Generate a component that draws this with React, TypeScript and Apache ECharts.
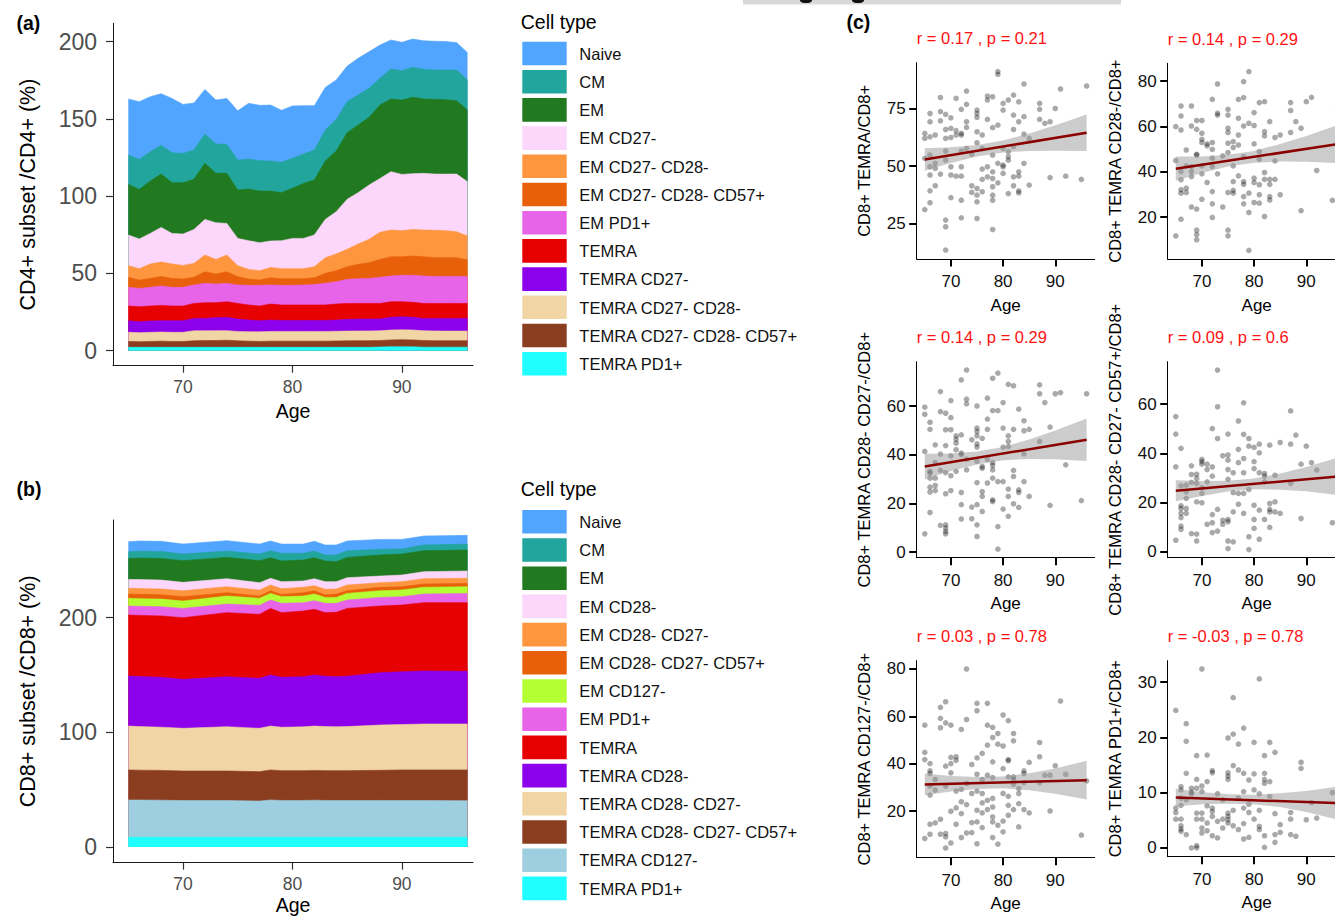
import React, { useEffect, useRef } from 'react';
import * as echarts from 'echarts';

const FONT = "'Liberation Sans', Arial, Helvetica, sans-serif";

// ---------------- Panel (a): CD4+ subsets (stacked) ----------------
const agesCD4 = [65,66,67,68,69,70,71,72,73,74,75,76,77,78,79,80,81,82,83,84,85,86,87,88,89,90,91,92,93,94,95,96];
const cd4Naive = [36.3,37.4,35.6,33.4,35.1,31.7,30.4,28.9,28.4,29.8,31.9,36.0,35.8,36.2,33.7,33.9,31.3,28.7,27.6,25.5,23.0,23.7,23.7,21.5,18.8,18.4,18.3,18.5,18.6,18.4,17.7,17.7];
const cd4CM = [18.9,19.4,19.0,18.6,19.5,19.0,19.0,18.9,19.0,18.7,19.4,19.5,19.7,19.5,19.6,19.4,19.0,19.4,20.0,20.5,20.1,19.4,18.8,17.3,19.4,19.0,19.4,19.2,19.0,19.2,19.9,19.4];
const cd4EM = [32.8,32.1,33.9,34.5,32.8,33.2,32.4,36.3,32.0,32.4,31.3,33.4,33.4,32.3,31.1,32.4,35.6,35.6,37.8,39.2,43.1,43.8,43.8,47.5,47.0,48.1,49.4,48.1,48.4,48.2,47.5,46.4];
const cd4EMCD27 = [19.9,19.2,19.8,22.4,19.8,20.3,22.0,23.1,23.7,20.5,17.7,18.6,18.1,17.1,18.1,19.6,19.6,20.5,24.8,27.4,32.4,33.3,35.1,34.9,37.8,36.4,36.1,36.7,36.4,36.6,37.3,35.2];
const cd4EMCD27CD28 = [7.5,7.4,9.3,9.3,9.3,8.8,9.0,10.8,9.5,10.8,7.1,6.2,6.1,6.7,6.5,6.5,6.5,7.2,10.1,10.8,11.2,13.1,15.1,17.5,17.3,16.9,17.2,17.3,17.7,17.5,16.8,15.5];
const cd4EMCD27CD28CD57 = [6.5,5.4,5.8,6.2,5.8,5.4,5.0,7.5,6.5,7.5,5.4,4.1,3.4,4.7,4.3,4.3,4.1,4.3,6.5,7.1,8.2,9.3,10.2,11.6,12.5,12.0,12.5,12.5,12.1,12.1,12.1,10.6];
const cd4EMPD1 = [12.1,11.8,12.1,12.6,12.1,12.1,11.9,12.5,12.0,11.9,11.9,12.7,13.4,12.3,12.7,12.7,12.9,13.3,14.0,14.5,15.6,16.0,16.2,16.9,16.6,17.1,17.5,17.7,17.5,17.5,17.5,17.5];
const cd4TEMRA = [9.5,9.7,9.7,9.9,9.5,9.5,9.7,10.2,9.7,10.1,10.1,9.8,9.5,10.4,10.0,10.0,10.0,10.0,10.0,10.4,10.3,10.1,10.1,10.0,10.1,9.7,9.7,9.7,9.7,9.7,9.7,9.7];
const cd4TEMRACD27 = [7.5,7.1,7.3,7.3,7.5,7.5,8.0,8.0,8.4,8.6,8.0,7.5,7.2,7.3,7.1,7.1,7.1,7.1,7.1,7.2,7.6,7.7,7.7,7.7,8.2,8.5,8.2,8.0,8.1,8.2,8.2,8.2];
const cd4TEMRACD27CD28 = [5.9,5.9,5.9,5.9,5.9,5.9,6.5,6.3,6.4,6.2,6.1,6.1,6.2,6.3,6.3,6.3,6.3,6.3,6.3,6.3,6.3,6.3,6.3,6.3,6.4,6.4,6.4,6.3,6.3,6.2,6.2,6.2];
const cd4TEMRACD27CD28CD57 = [3.8,3.6,3.8,4.0,3.8,3.8,4.2,4.4,4.4,4.6,4.2,4.0,3.8,4.0,4.0,4.0,4.0,4.0,4.0,4.1,4.2,4.3,4.3,4.2,4.4,4.5,4.5,4.3,4.2,4.2,4.2,4.2];
const cd4TEMRAPD1 = [2.2,2.2,2.2,2.2,2.2,2.2,2.2,2.2,2.2,2.2,2.2,2.2,2.2,2.2,2.2,2.2,2.2,2.2,2.2,2.2,2.2,2.2,2.2,2.4,2.6,2.6,2.5,2.3,2.3,2.3,2.3,2.3];

// ---------------- Panel (b): CD8+ subsets (stacked) ----------------
const agesCD8 = [65,66,68,70,74,77,78,79,81,82,83,84,85,88,90,92,96];
const cd8Naive = [8.7,8.9,8.8,8.7,9.1,8.7,8.5,8.1,8.1,8.5,8.7,8.7,8.5,8.7,8.4,7.8,7.6];
const cd8CM = [5.9,6.0,6.1,5.8,5.5,5.8,6.1,6.7,5.8,5.8,5.3,5.9,5.8,4.9,4.4,5.0,5.2];
const cd8EM = [18.3,18.8,18.9,18.9,18.6,19.2,18.0,18.0,18.3,18.3,18.0,17.4,17.7,18.4,18.3,18.3,18.3];
const cd8EMCD28 = [7.8,7.8,7.8,7.3,7.0,6.4,5.8,6.1,5.5,6.1,6.7,6.4,6.4,5.8,5.8,6.1,6.4];
const cd8EMCD28CD27 = [5.0,5.0,5.0,5.2,5.2,5.2,5.0,5.0,4.7,4.4,4.9,4.4,5.0,4.0,4.4,4.6,4.4];
const cd8EMCD28CD27CD57 = [3.7,3.8,3.8,3.8,2.9,2.0,2.3,2.0,2.9,2.9,2.1,2.9,2.3,3.0,2.9,2.9,2.9];
const cd8EMCD127 = [6.7,6.6,6.6,6.4,7.0,6.1,5.8,5.8,5.8,5.8,5.2,5.2,5.8,5.8,5.8,5.9,5.8];
const cd8EMPD1 = [7.9,8.0,8.1,8.1,7.5,7.9,7.3,8.1,7.3,7.5,8.1,7.8,7.3,7.5,7.3,7.5,8.1];
const cd8TEMRA = [53.2,53.2,53.5,53.8,55.9,55.8,58.1,56.4,57.3,57.3,55.4,56.2,59.1,58.2,58.2,59.6,59.9];
const cd8TEMRACD28 = [43.6,43.8,43.5,42.7,43.6,43.6,44.5,43.6,43.7,44.5,44.0,43.6,44.0,45.6,46.0,46.2,45.9];
const cd8TEMRACD28CD27 = [38.3,38.0,37.7,37.2,38.6,37.8,38.3,37.8,38.2,38.7,38.4,38.3,38.4,39.5,39.6,40.1,40.1];
const cd8TEMRACD28CD27CD57 = [26.2,26.0,26.0,25.8,25.8,25.6,26.2,26.0,26.0,26.0,26.0,26.1,26.1,26.3,26.6,26.7,26.8];
const cd8TEMRACD127 = [32.6,32.6,32.4,32.1,32.1,31.7,32.6,32.2,32.2,32.4,32.2,32.1,32.1,32.2,32.2,32.1,32.0];
const cd8TEMRAPD1 = [8.4,8.4,8.4,8.4,8.4,8.4,8.4,8.4,8.4,8.4,8.4,8.4,8.4,8.4,8.4,8.4,8.4];

// ---------------- Tick labels ----------------
const ageTicks = [70, 80, 90];
const cd4Ticks = [0, 50, 100, 150, 200];
const cd8Ticks = [0, 100, 200];

// ---------------- Panel (c): scatter plots ----------------
const scTemra = [
[65,64.3],[65,62.1],[65,53.4],[65,31.0],
[66,73.0],[66,69.4],[66,62.8],[66,54.8],[66,49.7],[66,46.1],[66,39.2],[66,34.0],
[67,63.6],[67,51.2],[67,49.0],[67,41.4],
[68,80.0],[68,73.8],[68,69.8],[68,46.5],
[69,72.6],[69,66.0],[69,62.1],[69,56.6],[69,52.6],[69,26.4],[69,23.5],[69,13.3],
[70,71.1],[70,66.5],[70,62.5],[70,49.7],[70,46.1],[70,36.2],
[71,79.6],[71,65.5],[71,63.6],[71,45.6],
[72,74.8],[72,64.3],[72,63.6],[72,56.6],[72,49.7],[72,45.6],[72,35.1],[72,27.4],
[73,82.8],[73,77.0],[73,69.4],[73,66.9],[73,57.7],
[74,55.1],[74,41.4],[74,38.5],
[75,74.5],[75,73.0],[75,71.3],[75,65.0],[75,60.2],[75,40.2],[75,37.3],[75,34.4],[75,27.1],
[76,63.6],[76,57.7],[76,48.7],[76,44.2],[76,38.8],
[77,80.6],[77,78.9],[77,70.4],[77,49.7],[77,45.3],
[78,80.3],[78,66.8],[78,54.8],[78,47.5],[78,44.6],[78,41.0],[78,37.3],[78,35.1],[78,22.3],
[79,91.3],[79,90.1],[79,67.9],[79,51.2],[79,42.7],
[80,77.4],[80,74.5],[80,57.7],[80,50.4],[80,49.7],[80,46.8],
[81,78.9],[81,56.3],[81,54.1],[81,52.6],[81,38.0],
[82,81.0],[82,72.3],[82,66.0],[82,58.5],[82,45.3],[82,41.4],
[83,78.1],[83,69.4],[83,47.5],[83,45.6],[83,39.2],[83,38.3],
[84,85.9],[84,71.6],[84,64.0],[84,51.2],
[85,62.1],[85,41.7],
[87,77.4],[87,74.8],[87,70.4],
[88,68.7],
[89,69.4],[89,45.0],
[90,75.2],[91,83.7],[92,45.6],[95,44.2],[96,85.0]
];
const scCD28 = [
[65,59.9],[65,45.0],[65,11.8],
[66,69.0],[66,64.6],[66,58.4],[66,40.1],[66,36.5],[66,32.1],[66,30.6],[66,19.1],
[67,49.6],[67,42.6],[67,32.8],[67,30.9],
[68,69.0],[68,60.2],[68,42.3],[68,40.1],[68,37.9],[68,24.5],
[69,62.6],[69,58.7],[69,47.7],[69,47.4],[69,23.6],[69,14.3],[69,12.4],[69,10.1],
[70,62.6],[70,57.0],[70,54.3],[70,52.9],[70,42.6],[70,39.1],[70,27.9],
[71,52.3],[71,51.4],[71,35.3],
[72,71.9],[72,52.9],[72,49.9],[72,46.0],[72,42.3],[72,31.3],[72,25.9],[72,19.9],
[73,78.7],[73,65.8],[73,65.0],[73,39.1],
[74,47.0],[74,24.5],
[75,67.5],[75,65.0],[75,59.2],[75,57.3],[75,52.6],[75,48.5],[75,30.9],[75,14.3],[75,11.8],
[76,53.3],[76,50.7],[76,42.6],[76,35.7],[76,31.8],[76,30.6],
[77,71.9],[77,63.6],[77,56.2],[77,51.8],[77,38.2],
[78,79.7],[78,72.7],[78,60.2],[78,46.7],[78,35.7],[78,34.5],[78,29.1],[78,25.9],
[79,84.1],[79,61.4],[79,30.6],[79,22.1],[79,5.4],
[80,66.1],[80,60.4],[80,52.3],[80,37.2],[80,35.3],[80,26.5],
[81,70.5],[81,48.9],[81,45.5],[81,34.3],[81,29.9],[81,26.2],
[82,70.9],[82,57.7],[82,55.8],[82,39.7],[82,36.7],[82,20.3],
[83,62.1],[83,36.7],[83,34.5],[83,29.1],[83,27.6],
[84,55.1],[84,44.8],[84,36.7],
[85,56.2],[85,29.9],
[87,70.5],[87,67.0],[87,57.3],
[88,62.1],
[89,59.2],[89,22.9],
[90,70.9],[91,72.8],[92,40.6],[95,27.4],[96,69.0]
];
const scCD28CD27 = [
[65,59.6],[65,56.7],[65,41.4],[65,7.5],
[66,53.4],[66,50.5],[66,33.2],[66,32.5],[66,30.4],[66,26.7],[66,24.7],[66,16.3],
[67,44.1],[67,36.8],[67,30.4],[67,27.4],[67,25.3],
[68,66.0],[68,57.8],[68,40.3],[68,33.6],[68,11.0],
[69,57.1],[69,50.3],[69,43.8],[69,32.7],[69,24.0],[69,11.2],[69,9.9],[69,8.5],[69,7.5],
[70,62.3],[70,55.3],[70,50.3],[70,39.6],[70,31.4],[70,25.3],
[71,47.8],[71,46.4],[71,44.8],[71,42.1],[71,33.2],
[72,70.8],[72,48.2],[72,40.7],[72,40.0],[72,24.5],[72,19.5],[72,13.6],
[73,74.9],[73,62.9],[73,61.0],[73,38.2],[73,33.8],
[74,46.2],[74,18.5],[74,13.7],
[75,60.1],[75,51.0],[75,49.6],[75,47.8],[75,44.5],[75,43.2],[75,37.3],[75,28.6],[75,19.5],[75,11.2],[75,6.4],
[76,46.8],[76,35.2],[76,34.5],[76,24.9],[76,22.9],[76,16.7],
[77,63.3],[77,54.7],[77,50.5],[77,38.2],[77,28.4],
[78,71.5],[78,58.2],[78,36.8],[78,35.6],[78,33.8],[78,30.4],[78,21.5],[78,20.8],
[79,73.6],[79,58.2],[79,29.0],[79,10.5],[79,1.2],
[80,61.5],[80,51.0],[80,43.2],[80,29.0],[80,17.7],
[81,69.0],[81,47.8],[81,45.5],[81,43.4],[81,25.9],[81,22.9],[81,14.7],
[82,68.4],[82,50.5],[82,33.6],[82,31.1],[82,19.9],
[83,58.8],[83,25.6],[83,24.5],[83,18.4],
[84,54.0],[84,49.9],[84,40.4],[84,29.0],
[85,50.5],[85,22.9],
[87,68.8],[87,65.1],[87,45.5],
[88,61.5],
[89,51.4],[89,19.2],
[90,65.1],[91,65.6],[92,35.9],[95,21.2],[96,65.1]
];
const scCD57 = [
[65,54.9],[65,47.8],[65,34.5],[65,4.7],
[66,42.0],[66,26.8],[66,18.7],[66,17.6],[66,15.6],[66,13.9],[66,10.4],[66,9.1],
[67,27.1],[67,24.4],[67,21.7],[67,17.6],[67,15.6],
[68,34.9],[68,31.4],[68,28.2],[68,7.4],
[69,31.5],[69,29.8],[69,27.8],[69,20.3],[69,7.2],[69,4.4],
[70,37.5],[70,36.6],[70,35.6],[70,26.0],[70,23.7],[70,19.9],
[71,35.6],[71,33.4],[71,28.4],[71,11.2],
[72,50.0],[72,34.5],[72,30.7],[72,15.1],[72,11.8],[72,7.8],
[73,73.8],[73,58.9],[73,46.0],[73,17.2],[73,8.4],
[74,39.0],[74,12.8],[74,11.2],
[75,47.8],[75,39.3],[75,37.2],[75,33.4],[75,29.4],[75,13.1],[75,12.2],[75,4.4],[75,1.3],
[76,32.1],[76,24.0],[76,16.2],[76,4.0],
[77,53.1],[77,41.6],[77,36.2],[77,23.7],[77,19.3],
[78,60.5],[78,47.7],[78,37.9],[78,32.1],[78,23.7],[78,15.6],
[79,46.0],[79,42.9],[79,25.3],[79,6.1],[79,0.9],
[80,42.4],[80,36.6],[80,33.8],[80,18.9],[80,13.1],[80,9.5],
[81,43.7],[81,40.2],[81,32.1],[81,16.9],[81,5.1],
[82,31.8],[82,30.7],[82,28.4],[82,13.1],
[83,43.3],[83,19.6],[83,17.2],[83,16.2],[83,9.9],
[84,31.1],[84,20.3],[84,16.2],
[85,44.4],[85,15.6],
[87,57.2],[87,43.7],[87,27.8],
[88,47.4],
[89,35.6],[89,13.5],
[90,42.9],[91,36.2],[92,33.2],[95,11.8]
];
const scCD127 = [
[65,56.3],[65,44.8],[65,41.8],[65,8.5],
[66,40.1],[66,37.0],[66,35.9],[66,30.6],[66,26.8],[66,14.5],[66,10.3],
[67,33.4],[67,28.9],[67,15.1],
[68,63.8],[68,59.2],[68,55.2],[68,16.6],[68,10.3],
[69,66.2],[69,57.3],[69,39.0],[69,30.6],[69,10.6],[69,9.2],[69,4.5],
[70,56.3],[70,42.7],[70,40.1],[70,36.2],[70,20.0],[70,6.6],
[71,43.0],[71,41.5],[71,28.5],[71,21.4],[71,14.5],
[72,54.5],[72,29.2],[72,24.0],[72,19.0],[72,8.9],
[73,80.0],[73,58.7],[73,31.7],[73,22.8],[73,10.8],
[74,39.7],[74,27.5],[74,15.2],[74,11.0],
[75,65.5],[75,62.4],[75,42.5],[75,35.6],[75,28.5],[75,20.4],[75,15.5],[75,6.3],
[76,44.4],[76,33.4],[76,27.5],[76,23.5],[76,19.3],[76,13.1],
[77,65.5],[77,56.3],[77,47.9],[77,35.2],[77,24.6],[77,20.7],
[78,55.4],[78,51.1],[78,40.8],[78,34.2],[78,25.4],[78,21.8],[78,17.6],[78,15.5],[78,8.9],
[79,52.8],[79,48.3],[79,14.1],[79,6.1],
[80,60.6],[80,47.5],[80,38.0],[80,27.5],[80,15.8],[80,11.3],
[81,58.2],[81,41.8],[81,41.3],[81,34.5],[81,26.3],[81,22.5],[81,18.3],
[82,52.8],[82,49.7],[82,34.5],[82,33.4],[82,31.4],[82,20.7],
[83,29.6],[83,27.5],[83,23.2],[83,13.4],
[84,37.0],[84,35.9],[84,32.0],[84,20.7],
[85,40.6],[85,19.3],
[87,49.0],[87,43.0],[87,32.1],
[88,35.2],
[89,35.2],[89,20.1],
[90,39.2],[91,66.5],[92,35.6],[95,9.9],[96,32.8]
];
const scPD1 = [
[65,24.9],[65,7.2],[65,6.4],[65,5.2],
[66,11.1],[66,10.5],[66,9.0],[66,7.7],[66,5.2],[66,4.0],[66,3.4],[66,3.0],
[67,22.5],[67,19.3],[67,13.5],[67,8.7],[67,2.4],
[68,10.8],[68,10.1],[68,9.8],[68,0.0],
[69,16.7],[69,12.4],[69,10.8],[69,6.3],[69,5.2],[69,0.4],[69,0.0],
[70,32.4],[70,11.2],[70,10.2],[70,6.3],[70,5.2],[70,3.6],[70,2.7],
[71,16.8],[71,12.0],[71,7.6],[71,4.5],[71,3.1],
[72,14.0],[72,13.6],[72,7.2],[72,6.6],[72,5.7],[72,2.2],
[73,9.8],[73,4.8],[73,1.8],
[74,8.7],[74,5.2],[74,3.6],
[75,19.9],[75,13.6],[75,13.0],[75,12.4],[75,6.3],[75,5.7],[75,5.1],[75,4.5],
[76,27.2],[76,20.6],[76,14.9],[76,6.8],[76,4.0],
[77,18.8],[77,14.1],[77,9.0],[77,3.3],
[78,21.7],[78,13.5],[78,10.2],[78,7.2],[78,4.4],[78,1.6],
[79,12.3],[79,7.9],[79,6.4],[79,1.9],
[80,19.1],[80,13.4],[80,10.5],[80,5.2],
[81,30.6],[81,9.8],[81,6.8],[81,3.9],[81,3.3],
[82,16.7],[82,13.5],[82,12.4],[82,11.7],[82,2.2],[82,0.1],
[83,19.1],[83,12.0],[83,9.3],
[84,17.3],[84,6.2],[84,2.4],[84,1.0],
[85,4.2],[85,2.8],
[87,6.4],[87,5.2],[87,2.4],
[88,2.1],
[89,15.5],[89,14.4],
[90,5.1],[91,8.2],[92,5.4],[95,10.0]
];

// regression fits: value at age 65 and at age 96
const fitEnds = [65, 96];
const fitTemra = [52.9, 64.6];
const fitCD28 = [41.4, 52.2];
const fitCD28CD27 = [35.2, 46.2];
const fitCD57 = [24.8, 30.6];
const fitCD127 = [31.3, 33.1];
const fitPD1 = [9.1, 8.1];

// confidence bands
const bandAges = [65, 70, 75, 80, 85, 90, 96];
const bandTemraLo = [48.0,51.4,54.2,56.0,56.6,56.7,56.6];
const bandTemraHi = [57.8,58.2,59.2,61.2,64.2,67.9,72.6];
const bandCD28Lo = [36.1,39.5,42.3,44.0,44.5,44.4,43.8];
const bandCD28Hi = [46.7,46.7,47.5,49.2,52.3,55.8,60.6];
const bandCD28CD27Lo = [30.0,33.4,36.0,37.8,38.3,38.2,37.5];
const bandCD28CD27Hi = [40.4,40.6,41.4,43.2,46.3,50.0,54.9];
const bandCD57Lo = [20.5,22.7,24.5,25.4,25.2,24.6,23.0];
const bandCD57Hi = [29.1,28.7,28.9,29.8,31.8,34.4,38.2];
const bandCD127Lo = [26.7,28.3,29.4,29.7,28.8,27.4,24.9];
const bandCD127Hi = [35.9,34.9,34.4,34.7,36.0,38.0,41.3];
const bandPD1Lo = [7.5,7.9,8.0,7.9,7.4,6.5,5.1];
const bandPD1Hi = [10.7,10.1,9.7,9.6,9.9,10.3,11.1];

const statLabels = [
  'r = 0.17 , p = 0.21',
  'r = 0.14 , p = 0.29',
  'r = 0.14 , p = 0.29',
  'r = 0.09 , p = 0.6',
  'r = 0.03 , p = 0.78',
  'r = -0.03 , p = 0.78',
];
const scatterYNames = [
  'CD8+ TEMRA/CD8+',
  'CD8+ TEMRA CD28-/CD8+',
  'CD8+ TEMRA CD28- CD27-/CD8+',
  'CD8+ TEMRA CD28- CD27- CD57+/CD8+',
  'CD8+ TEMRA CD127-/CD8+',
  'CD8+ TEMRA PD1+/CD8+',
];
const scatterYTicks = [
  [25, 50, 75],
  [20, 40, 60, 80],
  [0, 20, 40, 60],
  [0, 20, 40, 60],
  [20, 40, 60, 80],
  [0, 10, 20, 30],
];

// ---------------- colours ----------------
const C = {
  naive: '#52a5ff', cm: '#21a59c', em: '#217a1f', pink: '#fdd6fc', orange: '#fd963f',
  dorange: '#e8610a', ygreen: '#b3ff33', magenta: '#e764e8', red: '#e60000',
  purple: '#8c00eb', wheat: '#f1d5a5', brown: '#8b3d20', lblue: '#9ecfe0', cyan: '#1fffff',
};

// legend order (top of the stack first)
const cd4Layers = [
  { name: 'Naive', color: C.naive, data: cd4Naive },
  { name: 'CM', color: C.cm, data: cd4CM },
  { name: 'EM', color: C.em, data: cd4EM },
  { name: 'EM CD27-', color: C.pink, data: cd4EMCD27 },
  { name: 'EM CD27- CD28-', color: C.orange, data: cd4EMCD27CD28 },
  { name: 'EM CD27- CD28- CD57+', color: C.dorange, data: cd4EMCD27CD28CD57 },
  { name: 'EM PD1+', color: C.magenta, data: cd4EMPD1 },
  { name: 'TEMRA', color: C.red, data: cd4TEMRA },
  { name: 'TEMRA CD27-', color: C.purple, data: cd4TEMRACD27 },
  { name: 'TEMRA CD27- CD28-', color: C.wheat, data: cd4TEMRACD27CD28 },
  { name: 'TEMRA CD27- CD28- CD57+', color: C.brown, data: cd4TEMRACD27CD28CD57 },
  { name: 'TEMRA PD1+', color: C.cyan, data: cd4TEMRAPD1 },
];
const cd8Layers = [
  { name: 'Naive', color: C.naive, data: cd8Naive },
  { name: 'CM', color: C.cm, data: cd8CM },
  { name: 'EM', color: C.em, data: cd8EM },
  { name: 'EM CD28-', color: C.pink, data: cd8EMCD28 },
  { name: 'EM CD28- CD27-', color: C.orange, data: cd8EMCD28CD27 },
  { name: 'EM CD28- CD27- CD57+', color: C.dorange, data: cd8EMCD28CD27CD57 },
  { name: 'EM CD127-', color: C.ygreen, data: cd8EMCD127 },
  { name: 'EM PD1+', color: C.magenta, data: cd8EMPD1 },
  { name: 'TEMRA', color: C.red, data: cd8TEMRA },
  { name: 'TEMRA CD28-', color: C.purple, data: cd8TEMRACD28 },
  { name: 'TEMRA CD28- CD27-', color: C.wheat, data: cd8TEMRACD28CD27 },
  { name: 'TEMRA CD28- CD27- CD57+', color: C.brown, data: cd8TEMRACD28CD27CD57 },
  { name: 'TEMRA CD127-', color: C.lblue, data: cd8TEMRACD127 },
  { name: 'TEMRA PD1+', color: C.cyan, data: cd8TEMRAPD1 },
];

const scatterSets = [
  { pts: scTemra, fit: fitTemra, lo: bandTemraLo, hi: bandTemraHi },
  { pts: scCD28, fit: fitCD28, lo: bandCD28Lo, hi: bandCD28Hi },
  { pts: scCD28CD27, fit: fitCD28CD27, lo: bandCD28CD27Lo, hi: bandCD28CD27Hi },
  { pts: scCD57, fit: fitCD57, lo: bandCD57Lo, hi: bandCD57Hi },
  { pts: scCD127, fit: fitCD127, lo: bandCD127Lo, hi: bandCD127Hi },
  { pts: scPD1, fit: fitPD1, lo: bandPD1Lo, hi: bandPD1Hi },
];

// layout of the scatter grids
const scGrids = [
  { left: 916.7, top: 62.7, height: 196.3, ymin: 9.4, ymax: 95.2 },
  { left: 1167.7, top: 63.3, height: 195.7, ymin: 1.6, ymax: 87.8 },
  { left: 916.7, top: 361.7, height: 196, ymin: -2.3, ymax: 78.3 },
  { left: 1167.7, top: 361.7, height: 196, ymin: -2.4, ymax: 77.2 },
  { left: 916.7, top: 660.7, height: 197, ymin: 0.4, ymax: 83.5 },
  { left: 1167.7, top: 660.7, height: 196, ymin: -1.6, ymax: 33.9 },
];

function axisBase(gi: number, min: number, max: number, ticks: number[], o: any) {
  return {
    type: 'value', gridIndex: gi, min, max, scale: true,
    axisLine: { show: true, onZero: false, lineStyle: { color: o.lineColor, width: 1 } },
    axisTick: { show: true, customValues: ticks, length: o.tickLen, lineStyle: { color: o.tickColor, width: o.tickWidth } },
    axisLabel: { show: true, customValues: ticks, fontSize: o.labelSize, color: o.labelColor, margin: o.labelMargin, fontFamily: FONT },
    splitLine: { show: false },
    name: o.name, nameLocation: 'middle', nameGap: o.nameGap,
    nameTextStyle: { fontSize: o.nameSize, color: '#000', fontFamily: FONT },
  };
}

function legendEls(title: string, titleY: number, firstY: number, items: { name: string; color: string }[]) {
  const els: any[] = [
    { type: 'text', x: 520.7, y: titleY, style: { text: title, font: `19.5px ${FONT}`, fill: '#000', textAlign: 'left', textVerticalAlign: 'middle', align: 'left', verticalAlign: 'middle' } },
  ];
  items.forEach((it, i) => {
    const y = firstY + i * 28.2;
    els.push({ type: 'rect', shape: { x: 522.3, y, width: 44.4, height: 23.6 }, style: { fill: it.color } });
    els.push({ type: 'text', x: 579.3, y: y + 12, style: { text: it.name, font: `16.5px ${FONT}`, fill: '#111', textAlign: 'left', textVerticalAlign: 'middle', align: 'left', verticalAlign: 'middle' } });
  });
  return els;
}

// Stacked-area series: each layer is drawn as the running total from the bottom of the stack
// down to the axis, so the layers sit on top of each other exactly like position = "stack".
function stackedSeries(layers: { name: string; color: string; data: number[] }[], ages: number[], axis: number) {
  const bottomFirst = [...layers].reverse();
  const totals = ages.map(() => 0);
  const cumulative = bottomFirst.map((l) => {
    l.data.forEach((v, i) => { totals[i] += v; });
    return { ...l, top: totals.slice() };
  });
  // draw the highest running total first so that lower layers paint over it
  return cumulative.reverse().map((l) => ({
    type: 'line', name: l.name, xAxisIndex: axis, yAxisIndex: axis,
    data: l.top.map((v, i) => [ages[i], v]),
    symbol: 'none', silent: true, emphasis: { disabled: true },
    lineStyle: { width: 0.6, color: l.color }, itemStyle: { color: l.color },
    areaStyle: { color: l.color, opacity: 1, origin: 0 },
  }));
}

export default function App() {
  const ref = useRef<HTMLDivElement>(null);
  useEffect(() => {
    if (!ref.current) return;
    const chart = echarts.init(ref.current, null, { renderer: 'svg' });

    const grids: any[] = [
      { left: 113, top: 23.3, width: 360, height: 342.4 },
      { left: 113, top: 520, width: 360, height: 342.7 },
      ...scGrids.map((g) => ({ left: g.left, top: g.top, width: 178, height: g.height })),
    ].map((g) => ({ ...g, containLabel: false, outerBoundsMode: 'none', show: false }));

    const abX = { lineColor: '#1a1a1a', tickColor: '#333', tickLen: 7, tickWidth: 1.2, labelSize: 17.5, labelColor: '#4d4d4d', labelMargin: 12.5, name: 'Age', nameGap: 35, nameSize: 19.5 };
    const abY = { lineColor: '#1a1a1a', tickColor: '#333', tickLen: 7, tickWidth: 1.2, labelSize: 23, labelColor: '#4d4d4d', labelMargin: 16, nameGap: 74, nameSize: 21.5 };
    const cX = { lineColor: '#000', tickColor: '#000', tickLen: 7.5, tickWidth: 2, labelSize: 17, labelColor: '#111', labelMargin: 14, name: 'Age', nameGap: 37.5, nameSize: 17 };
    const cY = { lineColor: '#000', tickColor: '#000', tickLen: 7.5, tickWidth: 2, labelSize: 17, labelColor: '#111', labelMargin: 11, nameGap: 44.5, nameSize: 16.5 };

    const xAxes: any[] = [
      axisBase(0, 63.6, 96.5, ageTicks, abX),
      axisBase(1, 63.6, 96.5, ageTicks, { ...abX, nameGap: 32 }),
      ...scGrids.map((_, i) => axisBase(i + 2, 63.45, 97.55, ageTicks, cX)),
    ];
    const yAxes: any[] = [
      axisBase(0, -9.7, 211.9, cd4Ticks, { ...abY, name: 'CD4+ subset /CD4+ (%)' }),
      axisBase(1, -13.7, 285.2, cd8Ticks, { ...abY, name: 'CD8+ subset /CD8+ (%)' }),
      ...scGrids.map((g, i) => axisBase(i + 2, g.ymin, g.ymax, scatterYTicks[i], { ...cY, name: scatterYNames[i] })),
    ];

    const series: any[] = [
      ...stackedSeries(cd4Layers, agesCD4, 0),
      ...stackedSeries(cd8Layers, agesCD8, 1),
    ];
    scatterSets.forEach((s, k) => {
      const ai = k + 2;
      series.push({
        type: 'scatter', xAxisIndex: ai, yAxisIndex: ai, data: s.pts, symbol: 'circle', symbolSize: 5.6,
        itemStyle: { color: 'rgba(0,0,0,0.42)' }, silent: true, z: 2, emphasis: { disabled: true },
      });
      series.push({
        type: 'custom', xAxisIndex: ai, yAxisIndex: ai, data: [[bandAges[0], s.lo[0]]], silent: true, z: 3, clip: false,
        renderItem: (_p: any, api: any) => {
          const pts: number[][] = [];
          for (let i = 0; i < bandAges.length; i++) pts.push(api.coord([bandAges[i], s.hi[i]]));
          for (let i = bandAges.length - 1; i >= 0; i--) pts.push(api.coord([bandAges[i], s.lo[i]]));
          return { type: 'polygon', shape: { points: pts }, style: { fill: 'rgba(153,153,153,0.5)' } };
        },
      });
      series.push({
        type: 'line', xAxisIndex: ai, yAxisIndex: ai, data: fitEnds.map((a, i) => [a, s.fit[i]]),
        symbol: 'none', silent: true, z: 4, emphasis: { disabled: true },
        lineStyle: { color: '#8b0000', width: 2.5 },
      });
    });

    const txt = (text: string, x: number, y: number, font: string, fill: string, align = 'left') => ({
      type: 'text', x, y, style: { text, font, fill, textAlign: align, align, textVerticalAlign: 'middle', verticalAlign: 'middle' },
    });

    const graphics: any[] = [
      { type: 'rect', shape: { x: 743, y: 0, width: 378, height: 4.5 }, style: { fill: '#d9d9d9' } },
      { type: 'ellipse', shape: { cx: 806, cy: 0.5, rx: 6, ry: 2.6 }, style: { fill: '#111' } },
      { type: 'ellipse', shape: { cx: 858, cy: 0.5, rx: 6, ry: 2.6 }, style: { fill: '#111' } },
      txt('(a)', 16.5, 23, `bold 19.5px ${FONT}`, '#000'),
      txt('(b)', 16.5, 488.5, `bold 19.5px ${FONT}`, '#000'),
      txt('(c)', 846.5, 22, `bold 19.5px ${FONT}`, '#000'),
      ...legendEls('Cell type', 21.7, 41.7, cd4Layers),
      ...legendEls('Cell type', 489.3, 510, cd8Layers),
      ...scGrids.map((g, i) => txt(statLabels[i], g.left, g.top - 24.5, `16.5px ${FONT}`, '#ff1111')),
    ];

    chart.setOption({
      animation: false,
      backgroundColor: '#ffffff',
      textStyle: { fontFamily: FONT },
      grid: grids,
      xAxis: xAxes,
      yAxis: yAxes,
      series,
      graphic: { elements: graphics },
    });
    return () => chart.dispose();
  }, []);
  return <div ref={ref} style={{ position: 'fixed', left: 0, top: 0, width: 1335, height: 917, background: '#fff' }} />;
}
